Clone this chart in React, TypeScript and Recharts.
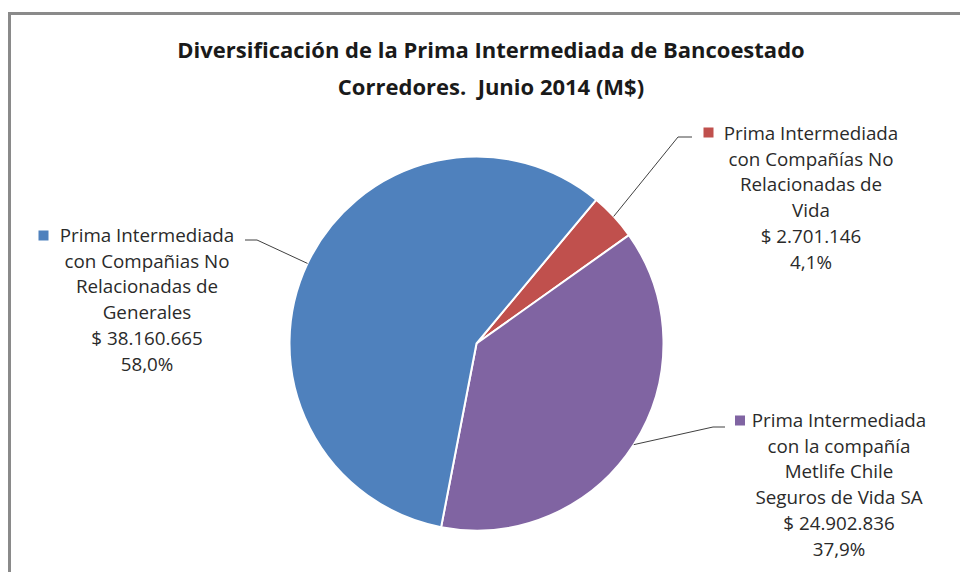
import { PieChart, Pie, Cell } from "recharts";

/* ── data ── */
const categories = [
  ["Prima Intermediada", "con Compañías No", "Relacionadas de", "Vida"],
  ["Prima Intermediada", "con la compañía", "Metlife Chile", "Seguros de Vida SA"],
  ["Prima Intermediada", "con Compañias No", "Relacionadas de", "Generales"],
];
const values = [2701146, 24902836, 38160665];
const colors = ["#C0504D", "#8064A2", "#4F81BD"];

const TITLE = ["Diversificación de la Prima Intermediada de Bancoestado", "Corredores.  Junio 2014 (M$)"];

/* label layout: elbow of leader, end of leader, marker centre, text centre x, first line centre y */
const labelLayout = [
  { elbow: [678, 137], end: [692, 137], marker: [708.5, 132.5], tx: 811, ty: 133 },
  { elbow: [713, 427], end: [725, 427], marker: [740, 420.5], tx: 839, ty: 420 },
  { elbow: [257, 240], end: [245, 240], marker: [43.5, 235.5], tx: 147, ty: 235 },
];

const total = values.reduce((a, b) => a + b, 0);
const data = values.map((v, i) => ({ name: categories[i].join(" "), value: v }));

const fmtNum = (n: number) => String(n).replace(/\B(?=(\d{3})+(?!\d))/g, ".");
const fmtPct = (v: number) => ((v / total) * 100).toFixed(1).replace(".", ",") + "%";

const RAD = Math.PI / 180;
const LINE_H = 25.8;
const FONT = "'Open Sans', Lato, sans-serif";

function renderLabel(props: any) {
  const { cx, cy, midAngle, outerRadius, index } = props;
  const lay = labelLayout[index];
  const sx = cx + outerRadius * Math.cos(-midAngle * RAD);
  const sy = cy + outerRadius * Math.sin(-midAngle * RAD);
  const lines = [...categories[index], "$ " + fmtNum(values[index]), fmtPct(values[index])];
  return (
    <g>
      <polyline
        points={`${sx},${sy} ${lay.elbow[0]},${lay.elbow[1]} ${lay.end[0]},${lay.end[1]}`}
        fill="none"
        stroke="#404040"
        strokeWidth={1}
      />
      <rect x={lay.marker[0] - 5} y={lay.marker[1] - 5} width={10} height={10} fill={colors[index]} />
      <text textAnchor="middle" fontFamily={FONT} fontSize={18.8} fill="#2a2a2a">
        {lines.map((l, i) => (
          <tspan key={i} x={lay.tx} y={lay.ty + i * LINE_H + 6.8}>
            {l}
          </tspan>
        ))}
      </text>
    </g>
  );
}

export default function App() {
  return (
    <div style={{ position: "absolute", left: 0, top: 0, width: 960, height: 572, overflow: "hidden", background: "#fff" }}>
      <div
        style={{
          position: "absolute", left: 8, top: 12, width: 1000, height: 600,
          borderLeft: "3px solid #8a8a8a", borderTop: "3px solid #8a8a8a",
        }}
      />
      <div
        style={{
          position: "absolute", left: 0, top: 31, width: 982, textAlign: "center",
          fontFamily: FONT, fontWeight: 700, fontSize: 22, lineHeight: "37px", color: "#1a1a1a",
        }}
      >
        {TITLE.map((t, i) => (
          <div key={i} style={{ whiteSpace: "pre" }}>{t}</div>
        ))}
      </div>
      <div style={{ position: "absolute", left: 0, top: 0 }}>
        <PieChart width={960} height={572} margin={{ top: 0, right: 0, bottom: 0, left: 0 }}>
          <Pie
            data={data}
            dataKey="value"
            nameKey="name"
            cx={476.5}
            cy={343.5}
            outerRadius={187}
            startAngle={50.2}
            endAngle={-309.8}
            stroke="#ffffff"
            strokeWidth={2}
            label={renderLabel}
            labelLine={false}
            isAnimationActive={false}
          >
            {data.map((d, i) => (
              <Cell key={d.name} fill={colors[i]} />
            ))}
          </Pie>
        </PieChart>
      </div>
    </div>
  );
}
